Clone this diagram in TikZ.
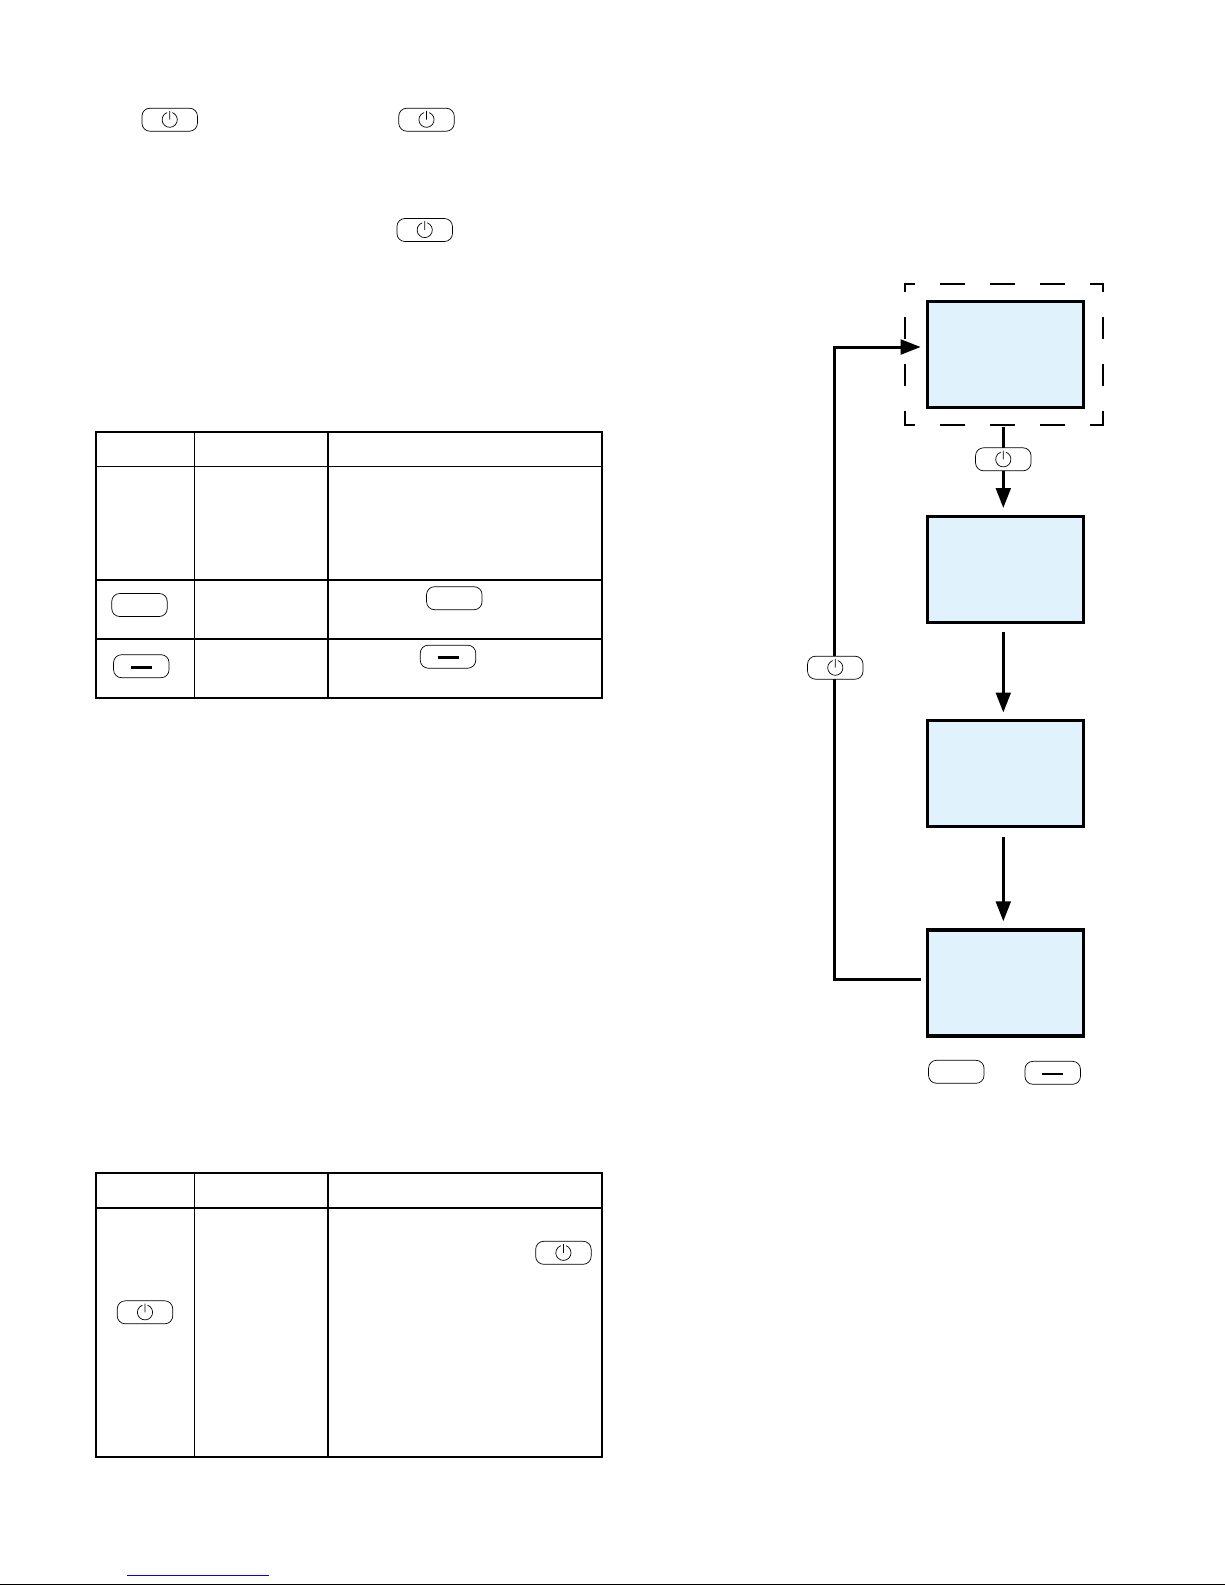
\documentclass[tikz,border=0pt]{standalone}
\usetikzlibrary{arrows.meta}
\definecolor{bleupale}{HTML}{E0F2FC}
\begin{document}
\begin{tikzpicture}[x=1pt, y=-1pt]
	\tikzset{boite/.style={rectangle, draw=black, fill=bleupale, line width=3pt, inner sep=0pt, minimum width=156pt, minimum height=106pt},
		bouton/.style={rectangle, rounded corners=8pt, draw=black, fill=white, line width=0.7pt, inner sep=0pt, minimum width=55.5pt, minimum height=23pt},
		onoff/.style={bouton, path picture={\draw[line width=0.7pt, shift={(path picture bounding box.center)}] (70:7.6pt) arc (70:-250:7.6pt) (0pt,0pt) -- (90:8.8pt);}},
		plus/.style={bouton},
		fleche/.style={-{Triangle[length=20pt, width=14.7pt]}, line width=3pt},
		tirets/.style={line width=2.3pt, line cap=rect, dash pattern=on 23pt off 27pt, dash phase=14pt},
		tiretsv/.style={line width=2.3pt, line cap=rect, dash pattern=on 20.3pt off 26.7pt, dash phase=13pt},
		cadre/.style={line width=2.3pt},
		filet/.style={line width=1.4pt},
		gras/.style={line width=2pt},
		barre/.style={line width=2.8pt},
		barrefine/.style={line width=1.8pt}};
	\useasboundingbox (0,0) rectangle (1225,1585);

	% boutons du haut
	\node[onoff] (h1) at (169.7,119.7) {};
	\node[onoff] (h2) at (426.5,119.7) {};
	\node[onoff] (h3) at (424.7,230) {};

	% premier tableau
	\draw[cadre] (95.8,432) rectangle (601.7,697.7);
	\draw[filet] (95.8,466.3) -- (601.7,466.3);
	\draw[cadre] (95.8,579.7) -- (601.7,579.7);
	\draw[cadre] (95.8,639) -- (601.7,639);
	\draw[filet] (194.3,432) -- (194.3,697.7);
	\draw[gras] (328.2,432) -- (328.2,697.7);
	\node[plus] (p1) at (139.5,605) {};
	\node[plus] (p2) at (454.3,598.2) {};
	\node[plus] (m1) at (141.3,666.2) {};
	\node[plus] (m2) at (448,656.7) {};
	\draw[barre] ([xshift=-10.5pt,yshift=-1.1pt]m1.center) -- ([xshift=10.5pt,yshift=-1.1pt]m1.center);
	\draw[barre] ([xshift=-10.5pt,yshift=-0.6pt]m2.center) -- ([xshift=10.5pt,yshift=-0.6pt]m2.center);

	% second tableau
	\draw[cadre] (95.8,1173.3) rectangle (601.7,1456.8);
	\draw[cadre] (95.8,1207.7) -- (601.7,1207.7);
	\draw[filet] (194.3,1173.3) -- (194.3,1456.8);
	\draw[gras] (328.2,1173.3) -- (328.2,1456.8);
	\node[onoff] (t1) at (145,1312.3) {};
	\node[onoff] (t2) at (563.4,1252.8) {};

	% bas de page
	\draw[blue, line width=1pt] (127,1575.3) -- (269,1575.3);
	\draw[line width=1pt] (0,1584.3) -- (1225,1584.3);

	% schema de droite
	\node[boite] (b1) at (1005.5,354.7) {};
	\node[boite] (b2) at (1005.5,569.2) {};
	\node[boite] (b3) at (1005.5,773.3) {};
	\node[boite, line width=3.4pt] (b4) at (1005.5,983) {};

	\coordinate (c1) at (905.3,284);
	\coordinate (c2) at (1103,284);
	\coordinate (c3) at (1103,424.7);
	\coordinate (c4) at (905.3,424.7);
	\coordinate (r1) at (834.7,979.3);
	\coordinate (r2) at (834.7,347);

	\draw[tirets] (c1) -- (c2);
	\draw[tirets] (c4) -- (c3);
	\draw[tiretsv] (c1) -- (c4);
	\draw[tiretsv] (c2) -- (c3);

	\draw[fleche, shorten <=17.4pt, shorten >=6.7pt] ([xshift=-2.2pt]b1.south) -- ([xshift=-2.2pt]b2.north);
	\draw[fleche, shorten <=8pt, shorten >=6.3pt] ([xshift=-2.2pt]b2.south) -- ([xshift=-2.2pt]b3.north);
	\draw[fleche, shorten <=9pt, shorten >=7pt] ([xshift=-2.2pt]b3.south) -- ([xshift=-2.2pt]b4.north);
	\draw[fleche, miter limit=10, shorten <=5pt, shorten >=5.3pt] ([yshift=3.7pt]b4.west) -- (r1) -- (r2) -- ([yshift=7.7pt]b1.west);

	\node[onoff] (e1) at (1003.3,459.3) {};
	\node[onoff] (e2) at (835.3,667.7) {};
	\node[plus] (p3) at (956.3,1071.8) {};
	\node[plus] (m3) at (1052.7,1072.8) {};
	\draw[barrefine] ([xshift=-10.5pt,yshift=-0.9pt]m3.center) -- ([xshift=10.5pt,yshift=-0.9pt]m3.center);
\end{tikzpicture}
\end{document}
